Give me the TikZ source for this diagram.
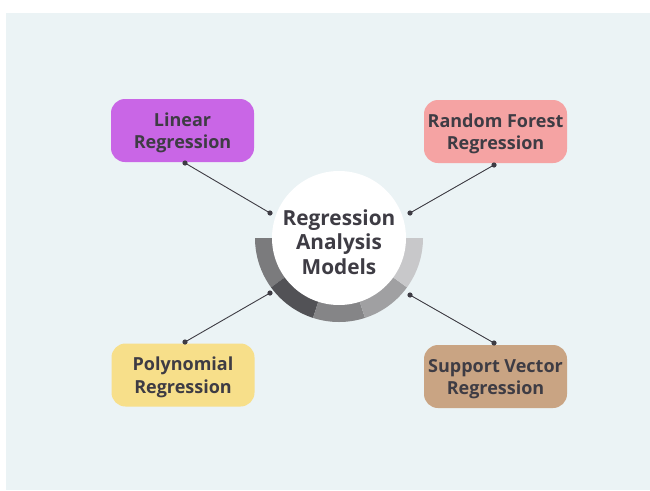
\documentclass[tikz,border=0pt]{standalone}
\usepackage{fontspec}
\usetikzlibrary{calc}
\setmainfont{Open Sans}
\definecolor{panel}{HTML}{EBF3F5}
\definecolor{txt}{HTML}{3E3C44}
\definecolor{linc}{HTML}{C966E6}
\definecolor{rfc}{HTML}{F5A3A3}
\definecolor{polc}{HTML}{F7DF8A}
\definecolor{svc}{HTML}{C9A483}
\definecolor{segA}{HTML}{7B7B7D}
\definecolor{segB}{HTML}{525256}
\definecolor{segC}{HTML}{858587}
\definecolor{segD}{HTML}{A0A0A2}
\definecolor{segE}{HTML}{C8C8CA}
\begin{document}
\begin{tikzpicture}[x=1pt,y=-1pt,
  box/.style={rounded corners=14pt,minimum width=143pt,minimum height=63pt,inner sep=0pt},
  boxtext/.style={align=center,text=txt,inner sep=0pt,font=\fontsize{18}{22.5}\selectfont\bfseries},
  conn/.style={draw=txt,line width=0.9pt},
  dot/.style={fill=txt}]
\useasboundingbox (0,0) rectangle (650,490);
\fill[white] (0,0) rectangle (650,490);
\fill[panel] (6,13) rectangle (650,490);
\coordinate (c) at (339,238);
% ring segments
\foreach \a/\b/\col in {180/144/segA,144/108/segB,108/72/segC,72/36/segD,36/0/segE}{
  \fill[\col] ($(c)+(\a:84)$) arc[start angle=\a,end angle=\b,radius=84]
    -- ($(c)+(\b:66)$) arc[start angle=\b,end angle=\a,radius=66] -- cycle;
}
\node[circle,fill=white,minimum size=134pt,inner sep=0pt] (hub) at (c) {};
\node[align=center,text=txt,inner sep=0pt,font=\fontsize{20.8}{24.5}\selectfont\bfseries]
  (hubtxt) at ($(hub.center)+(0,4)$) {Regression\\Analysis\\Models};
\node[box,fill=linc] (lin) at (182.5,130.5) {};
\node[box,fill=rfc] (rf) at (495.5,131.5) {};
\node[box,fill=polc] (pol) at (183,375) {};
\node[box,fill=svc] (sv) at (495.5,376.5) {};
\node[boxtext] (lint) at ($(lin.center)+(0,2.5)$) {Linear\\Regression};
\node[boxtext] (rft) at ($(rf.center)+(0,2.5)$) {Random Forest\\Regression};
\node[boxtext] (polt) at ($(pol.center)+(0,2.5)$) {Polynomial\\Regression};
\node[boxtext] (svt) at ($(sv.center)+(0,2.5)$) {Support Vector\\Regression};
\coordinate (lind) at (270,213);
\coordinate (rfd) at (410,213);
\coordinate (pold) at (270,293);
\coordinate (svd) at (410,295);
\coordinate (lins) at (185,163);
\coordinate (rfs) at (494,165);
\coordinate (pols) at (185,342);
\coordinate (svs) at (494,343);
\draw[conn] (lins) -- (lind);
\draw[conn] (rfs) -- (rfd);
\draw[conn] (pols) -- (pold);
\draw[conn] (svs) -- (svd);
\foreach \p in {lind,rfd,pold,svd,lins,rfs,pols,svs}{\fill[dot] (\p) circle (2.6);}
\end{tikzpicture}
\end{document}
